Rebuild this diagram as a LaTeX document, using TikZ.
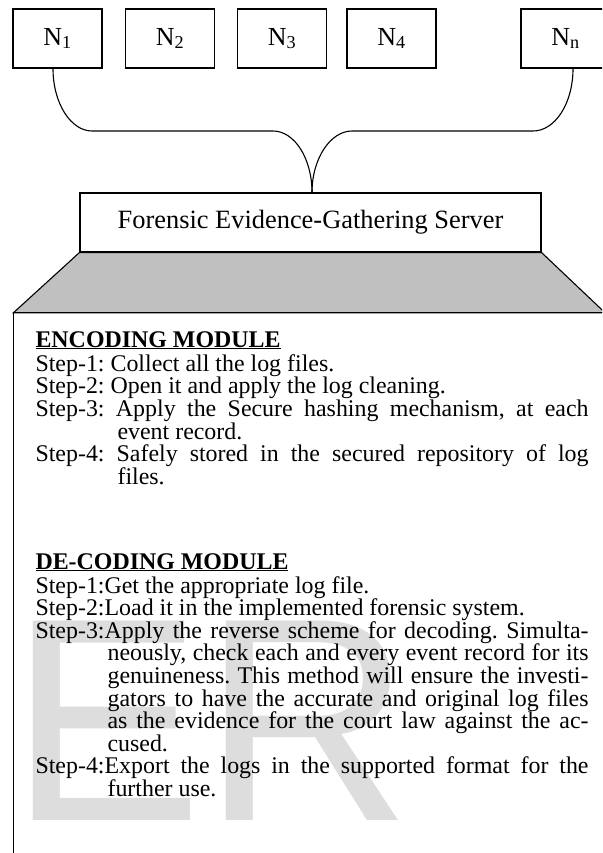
\documentclass[tikz,border=0pt]{standalone}
\usepackage{fontspec}
\setmainfont{Liberation Serif}
\newfontfamily\wmfont{Liberation Sans}
\definecolor{wmgray}{RGB}{221,221,221}
\definecolor{trapgray}{RGB}{192,192,192}
\frenchspacing
\begin{document}
\begin{tikzpicture}[x=1pt,y=-1pt,line width=1.1pt,
  nbox/.style={draw,minimum width=89pt,minimum height=59pt,inner sep=0pt,font=\fontsize{26}{26}\selectfont},
  srvbox/.style={draw,minimum width=461pt,minimum height=59pt,inner sep=0pt,font=\fontsize{26.4}{26.4}\selectfont},
  body/.style={anchor=base west,inner sep=0pt,font=\fontsize{23.9}{22.7}\selectfont\frenchspacing},
  link/.style={line width=1.1pt}]
\useasboundingbox (0,0) rectangle (602,853);
\clip (0,0) rectangle (602,853);
\fill[white] (0,0) rectangle (602,853);
% client nodes
\node[nbox] (n1) at (57.5,38.5) {N\textsubscript{1}};
\node[nbox] (n2) at (170,38.5) {N\textsubscript{2}};
\node[nbox] (n3) at (282,38.5) {N\textsubscript{3}};
\node[nbox] (n4) at (391.5,38.5) {N\textsubscript{4}};
\node[nbox] (nn) at (565.5,38.5) {N\textsubscript{n}};
% server
\node[srvbox] (srv) at (310.5,222.5) {Forensic Evidence-Gathering Server};
% connectors
\coordinate (h1) at (92,131);
\coordinate (h2) at (273,131);
\coordinate (h3) at (352,131);
\coordinate (h4) at (533,131);
\draw[link] ([xshift=-4.5pt]n1.south) .. controls +(0,35) and +(-21,0) .. (h1) -- (h2)
  .. controls +(21.5,0) and +(0,-34) .. ([xshift=1.5pt]srv.north);
\draw[link] ([xshift=7.5pt]nn.south) .. controls +(0,35) and +(22,0) .. (h4) -- (h3)
  .. controls +(-21.5,0) and +(0,-34) .. ([xshift=1.5pt]srv.north);
% trapezoid and module box
\filldraw[fill=trapgray] (srv.south west) -- (srv.south east) -- (605,312.7) -- (13.5,312.7) -- cycle;
\draw (13.5,312.7) rectangle (640,900);
% watermark
\node[anchor=base west,inner sep=0pt,text=wmgray] (wm) at (9,820) {\wmfont\fontsize{290}{290}\selectfont ER};
% encoding module
\node[body] (e0) at (35,347) {\underline{\textbf{ENCODING MODULE}}};
\node[body] (e1) at (35,371) {Step-1: Collect all the log files.};
\node[body] (e2) at (35,393.7) {Step-2: Open it and apply the log cleaning.};
\node[body] (e3) at (35,416.4) {\makebox[553pt][s]{Step-3: Apply the Secure hashing mechanism, at each}};
\node[body] (e4) at (117,439.1) {event record.};
\node[body] (e5) at (35,461.8) {\makebox[553pt][s]{Step-4: Safely stored in the secured repository of log}};
\node[body] (e6) at (117,484.5) {files.};
% decoding module
\node[body] (d0) at (35,569) {\underline{\textbf{DE-CODING MODULE}}};
\node[body] (d1) at (35,593) {Step-1:Get the appropriate log file.};
\node[body] (d2) at (35,615.6) {Step-2:Load it in the implemented forensic system.};
\node[body] (d3) at (35,638.2) {\makebox[553pt][s]{Step-3:Apply the reverse scheme for decoding. Simulta-}};
\node[body] (d4) at (107,660.8) {\makebox[481pt][s]{neously, check each and every event record for its}};
\node[body] (d5) at (107,683.4) {\makebox[481pt][s]{genuineness. This method will ensure the investi-}};
\node[body] (d6) at (107,706) {\makebox[481pt][s]{gators to have the accurate and original log files}};
\node[body] (d7) at (107,728.6) {\makebox[481pt][s]{as the evidence for the court law against the ac-}};
\node[body] (d8) at (107,751.2) {cused.};
\node[body] (d9) at (35,773.8) {\makebox[553pt][s]{Step-4:Export the logs in the supported format for the}};
\node[body] (d10) at (107,796.4) {further use.};
\end{tikzpicture}
\end{document}
